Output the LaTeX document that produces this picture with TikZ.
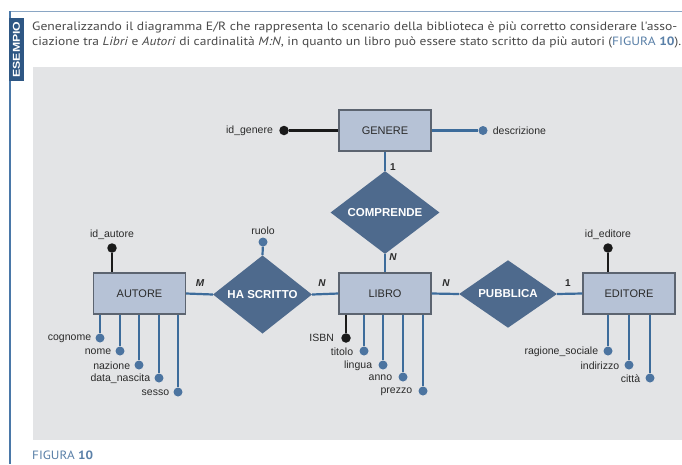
\documentclass[tikz,border=0pt]{standalone}
\usepackage{fontspec}
\setmainfont{Liberation Sans}
\newfontfamily\hdrfont{PT Sans}
\usetikzlibrary{shapes.geometric}
\definecolor{frameblue}{HTML}{4A78A8}
\definecolor{topline}{HTML}{8AA6C4}
\definecolor{tabblue}{HTML}{2E5784}
\definecolor{panelgrey}{HTML}{E3E4E6}
\definecolor{entfill}{HTML}{B6C2D6}
\definecolor{entdraw}{HTML}{5C6470}
\definecolor{relfill}{HTML}{4E6A8D}
\definecolor{linkblue}{HTML}{3D6C9B}
\definecolor{dotblue}{HTML}{4C74A0}
\definecolor{keyblack}{HTML}{1A1A1A}
\definecolor{hdrtext}{HTML}{4A4A4A}
\definecolor{figblue}{HTML}{5A80A8}
\definecolor{lbltext}{HTML}{2A2A2A}
\begin{document}
\begin{tikzpicture}[x=1pt,y=-1pt,
  entity/.style={rectangle,draw=entdraw,line width=1.2pt,fill=entfill,minimum width=92pt,minimum height=41pt,inner sep=0pt,font=\fontsize{11}{11}\selectfont,text=lbltext},
  relation/.style={diamond,fill=relfill,inner sep=0pt,font=\bfseries\fontsize{11.5}{11.5}\selectfont,text=white},
  link/.style={draw=linkblue,line width=2.2pt},
  keylink/.style={draw=keyblack,line width=2.4pt},
  adot/.style={circle,fill=dotblue,minimum size=9pt,inner sep=0pt},
  kdot/.style={circle,fill=keyblack,minimum size=9.5pt,inner sep=0pt},
  alabel/.style={inner sep=0pt,font=\fontsize{10.5}{10.5}\selectfont,text=lbltext},
  card/.style={inner sep=0pt,font=\bfseries\itshape\fontsize{10}{10}\selectfont,text=lbltext},
  cardone/.style={inner sep=0pt,font=\bfseries\fontsize{10}{10}\selectfont,text=lbltext}
]
\useasboundingbox (0,0) rectangle (682,464);
\fill[white] (0,0) rectangle (682,464);
% frame
\draw[topline,line width=1pt] (10,11) -- (682,11);
\draw[frameblue,line width=2pt] (10,11) -- (10,464);
\fill[tabblue] (9,18) rectangle (24,81);
\node[rotate=90,inner sep=0pt,text=white,font=\bfseries\fontsize{10}{10}\selectfont] (tab) at (16.5,49.5) {\resizebox{56pt}{\height}{ESEMPIO}};
% header text
\node[anchor=west,inner sep=0pt,text=hdrtext,font=\hdrfont\fontsize{12}{12}\selectfont] (h1) at (32,27.5)
  {\resizebox{645pt}{\height}{Generalizzando il diagramma E/R che rappresenta lo scenario della biblioteca è più corretto considerare l'asso-}};
\node[anchor=west,inner sep=0pt,text=hdrtext,font=\hdrfont\fontsize{12}{12}\selectfont] (h2) at (32,42.5)
  {\resizebox{649pt}{\height}{ciazione tra \textit{Libri} e \textit{Autori} di cardinalità \textit{M:N}, in quanto un libro può essere stato scritto da più autori (\textcolor{figblue}{FIGURA \textbf{10}}).}};
% panel
\fill[panelgrey] (33,67) rectangle (682,440);
\node[anchor=west,inner sep=0pt,text=figblue,font=\hdrfont\fontsize{12}{12}\selectfont] (fig) at (32,455.5)
  {\resizebox{61pt}{\height}{FIGURA \textbf{10}}};
% entities
\node[entity] (genere) at (385,130.5) {GENERE};
\node[entity] (autore) at (139.5,293.5) {AUTORE};
\node[entity] (libro) at (385,293.5) {LIBRO};
\node[entity] (editore) at (629,293.5) {EDITORE};
% relations
\node[relation,minimum width=109pt,minimum height=62pt] (comprende) at (385,212.5) {COMPRENDE};
\node[relation,minimum width=99pt,minimum height=63pt] (hascritto) at (262.5,294.5) {HA SCRITTO};
\node[relation,minimum width=98pt,minimum height=64pt] (pubblica) at (508,294) {PUBBLICA};
% relation links
\path[link] (genere.south) -- (comprende.north);
\path[link] (comprende.south) -- (libro.north);
\path[link] (autore.east) -- (hascritto.west);
\path[link] (hascritto.east) -- (libro.west);
\path[link] (libro.east) -- (pubblica.west);
\path[link] (pubblica.east) -- (editore.west);
% cardinalities
\node[cardone] (c1) at (393,167) {1};
\node[card] (c2) at (393,257) {N};
\node[card] (c3) at (200,283) {M};
\node[card] (c4) at (322,283) {N};
\node[card] (c5) at (446,283) {N};
\node[cardone] (c6) at (568,283) {1};
% GENERE attributes
\node[kdot] (idgenere) at (284,130.5) {};
\path[keylink] (idgenere) -- (genere.west);
\node[alabel,anchor=east] (l-idgenere) at ([xshift=-6pt]idgenere.west) {id\_genere};
\node[adot] (descr) at (483,130.5) {};
\path[link] (genere.east) -- (descr);
\node[alabel,anchor=west] (l-descr) at ([xshift=5pt]descr.east) {descrizione};
% ruolo
\node[adot] (ruolo) at (263,242) {};
\path[link] (ruolo) -- (hascritto.north);
\node[alabel,anchor=south] (l-ruolo) at ([yshift=3pt]ruolo.north) {ruolo};
% AUTORE attributes
\node[kdot] (idautore) at (112,248) {};
\path[keylink] (idautore) -- (idautore |- autore.north);
\node[alabel,anchor=south] (l-idautore) at ([yshift=3pt]idautore.north) {id\_autore};
\foreach \n/\x/\y in {cognome/100/338, nome/120/351, nazione/139/365, data\_nascita/159/378, sesso/178/392}{
  \node[adot] (a-\x) at (\x,\y) {};
  \path[link] (a-\x |- autore.south) -- (a-\x);
  \node[alabel,anchor=east] (la-\x) at ([xshift=-4pt,yshift=-0.5pt]a-\x.west) {\n};
}
% LIBRO attributes
\node[kdot] (isbn) at (346,338) {};
\path[keylink] (isbn |- libro.south) -- (isbn);
\node[alabel,anchor=east] (l-isbn) at ([xshift=-7pt]isbn.west) {ISBN};
\foreach \n/\x/\y in {titolo/364/351, lingua/383/365, anno/403/377, prezzo/423/391}{
  \node[adot] (b-\x) at (\x,\y) {};
  \path[link] (b-\x |- libro.south) -- (b-\x);
  \node[alabel,anchor=east] (lb-\x) at ([xshift=-6pt,yshift=-0.5pt]b-\x.west) {\n};
}
% EDITORE attributes
\node[kdot] (ideditore) at (608,248) {};
\path[keylink] (ideditore) -- (ideditore |- editore.north);
\node[alabel,anchor=south] (l-ideditore) at ([yshift=3pt]ideditore.north) {id\_editore};
\foreach \n/\x/\y in {ragione\_sociale/608/351, indirizzo/629/365, città/650/378}{
  \node[adot] (e-\x) at (\x,\y) {};
  \path[link] (e-\x |- editore.south) -- (e-\x);
  \node[alabel,anchor=east] (le-\x) at ([xshift=-5pt,yshift=-0.5pt]e-\x.west) {\n};
}
\end{tikzpicture}
\end{document}
